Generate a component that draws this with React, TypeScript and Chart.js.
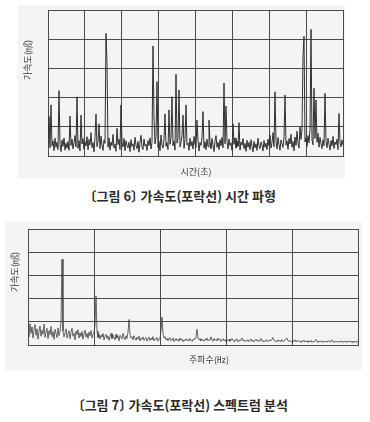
import React, { useEffect, useRef } from "react";
import { Chart, registerables } from "chart.js";

Chart.register(...registerables);

// ---- data ----
const AMP_ROWS = 5; // amplitude grid rows (both charts)
const TIME_DIVISIONS = 8; // time grid columns
const FREQ_DIVISIONS = 5; // frequency grid columns

// acceleration envelope, time waveform (grid-row units)
const TIME_AMPLITUDE = [
  0.42, 1.35, 0.28, 1.75, 0.35, 0.52, 0.18, 0.61, 0.3, 0.47, 0.22, 2.24, 0.4, 0.15, 0.55, 0.33, 0.62, 0.2, 0.44, 0.27,
  0.5, 0.19, 1.37, 0.36, 0.58, 0.24, 0.45, 0.7, 0.31, 2.03, 0.26, 0.53, 0.17, 1.4, 0.41, 0.6, 0.23, 0.49, 0.34, 0.66,
  0.21, 0.57, 0.38, 0.8, 0.29, 0.46, 0.14, 0.63, 1.44, 0.32, 0.51, 1.1, 0.25, 0.68, 0.37, 0.19, 0.55, 0.43, 4.2, 3.17,
  0.3, 0.62, 0.2, 0.48, 0.35, 0.74, 0.27, 0.41, 0.16, 0.95, 0.39, 0.58, 0.22, 1.75, 0.45, 0.31, 0.6, 0.18, 0.52, 0.36,
  0.28, 0.47, 0.15, 0.56, 0.33, 0.42, 0.2, 0.64, 0.37, 0.25, 0.5, 0.13, 0.45, 0.71, 0.3, 0.22, 0.58, 0.34, 0.4, 0.19,
  0.53, 0.36, 0.62, 0.24, 0.47, 3.77, 1.3, 0.41, 0.66, 2.55, 0.29, 0.5, 0.18, 0.72, 0.38, 0.27, 0.59, 1.44, 0.33, 0.46,
  0.22, 1.58, 0.4, 0.63, 2.03, 0.35, 0.52, 0.2, 2.8, 0.44, 0.6, 2.26, 0.31, 0.48, 0.7, 1.4, 0.26, 0.55, 1.75, 0.38,
  0.45, 0.19, 0.61, 0.34, 0.5, 0.24, 0.67, 0.4, 0.29, 1.23, 0.53, 0.17, 0.46, 0.36, 0.62, 1.52, 0.27, 0.49, 0.21, 0.58,
  0.32, 1.23, 0.44, 0.26, 0.6, 0.38, 0.15, 0.52, 0.7, 0.3, 0.47, 0.22, 0.56, 0.35, 0.64, 0.28, 2.5, 0.42, 1.71, 0.5,
  0.24, 0.58, 0.36, 0.45, 0.19, 1.1, 0.4, 0.62, 0.27, 0.51, 0.33, 1.14, 0.2, 0.48, 0.37, 0.6, 0.25, 0.43, 0.16, 0.54,
  0.3, 0.47, 0.21, 0.56, 0.34, 0.14, 0.5, 0.28, 0.42, 0.19, 0.61, 0.33, 0.25, 0.48, 0.38, 0.17, 0.53, 0.3, 0.44, 0.22,
  0.58, 0.35, 0.71, 0.27, 0.46, 0.8, 0.32, 2.2, 0.5, 0.24, 0.63, 0.39, 0.2, 0.55, 0.42, 0.29, 0.66, 2.09, 0.37, 0.52,
  0.23, 0.6, 0.41, 0.74, 0.3, 0.5, 0.18, 0.65, 0.36, 0.85, 0.44, 0.27, 1.0, 0.57, 0.9, 3.4, 4.1, 0.48, 0.62, 0.33,
  0.7, 0.45, 0.92, 4.34, 0.55, 0.38, 2.32, 0.6, 1.92, 0.47, 0.78, 0.3, 0.64, 0.42, 0.25, 0.56, 0.35, 2.15, 0.5, 0.28,
  0.61, 0.4, 0.2, 0.53, 0.34, 0.67, 0.26, 0.48, 0.39, 0.58, 0.22, 1.46, 0.44, 0.31, 0.55, 0.37,
];

// acceleration envelope spectrum (grid-row units)
const SPECTRUM_AMPLITUDE = [
  0.6, 0.35, 0.92, 0.5, 0.78, 0.3, 0.66, 0.88, 0.42, 0.7, 0.25, 0.58, 0.82, 0.38, 0.64, 0.47, 0.9, 0.33, 0.55, 0.72,
  0.28, 0.62, 0.45, 0.8, 0.36, 0.58, 0.24, 0.68, 0.5, 0.32, 0.74, 0.4, 0.56, 1.05, 3.7, 0.6, 0.35, 0.52, 0.7, 0.3,
  0.48, 0.62, 0.27, 0.55, 0.72, 0.38, 0.5, 0.22, 0.6, 0.44, 0.66, 0.3, 0.52, 0.36, 0.58, 0.25, 0.48, 0.64, 0.34, 0.5,
  0.28, 0.56, 0.4, 0.62, 0.3, 0.45, 0.55, 0.85, 2.12, 0.6, 0.32, 0.48, 0.26, 0.42, 0.35, 0.5, 0.22, 0.38, 0.46, 0.28,
  0.4, 0.2, 0.36, 0.5, 0.27, 0.44, 0.32, 0.24, 0.46, 0.3, 0.38, 0.18, 0.42, 0.34, 0.26, 0.5, 0.3, 0.22, 0.4, 0.28,
  0.55, 1.1, 0.45, 0.3, 0.36, 0.22, 0.4, 0.28, 0.2, 0.34, 0.25, 0.38, 0.18, 0.3, 0.24, 0.35, 0.2, 0.28, 0.32, 0.17,
  0.26, 0.34, 0.2, 0.3, 0.22, 0.36, 0.18, 0.27, 0.23, 0.32, 0.16, 0.25, 0.3, 0.6, 1.2, 0.5, 0.3, 0.36, 0.22, 0.28,
  0.2, 0.26, 0.32, 0.18, 0.24, 0.3, 0.15, 0.22, 0.28, 0.19, 0.25, 0.16, 0.3, 0.21, 0.26, 0.14, 0.22, 0.18, 0.27, 0.2,
  0.24, 0.17, 0.28, 0.2, 0.15, 0.25, 0.21, 0.3, 0.35, 0.68, 0.32, 0.22, 0.27, 0.18, 0.24, 0.2, 0.16, 0.26, 0.22, 0.3,
  0.18, 0.24, 0.2, 0.35, 0.22, 0.16, 0.28, 0.2, 0.25, 0.17, 0.3, 0.22, 0.26, 0.15, 0.21, 0.27, 0.19, 0.24, 0.14, 0.22,
  0.18, 0.25, 0.16, 0.21, 0.28, 0.19, 0.15, 0.23, 0.2, 0.26, 0.14, 0.2, 0.17, 0.24, 0.3, 0.18, 0.22, 0.15, 0.2, 0.17,
  0.23, 0.14, 0.19, 0.26, 0.16, 0.21, 0.13, 0.2, 0.25, 0.17, 0.22, 0.15, 0.19, 0.28, 0.16, 0.2, 0.13, 0.18, 0.23, 0.15,
  0.2, 0.16, 0.22, 0.18, 0.25, 0.32, 0.2, 0.15, 0.19, 0.13, 0.22, 0.17, 0.2, 0.14, 0.24, 0.18, 0.15, 0.21, 0.27, 0.3,
  0.18, 0.14, 0.2, 0.16, 0.12, 0.19, 0.15, 0.22, 0.13, 0.18, 0.2, 0.14, 0.17, 0.11, 0.19, 0.15, 0.21, 0.13, 0.16, 0.18,
  0.12, 0.17, 0.14, 0.2, 0.11, 0.16, 0.13, 0.18, 0.24, 0.15, 0.12, 0.17, 0.14, 0.19, 0.11, 0.15, 0.13, 0.17, 0.12, 0.16,
  0.14, 0.19, 0.12, 0.16, 0.22, 0.13, 0.15, 0.11, 0.17, 0.14, 0.12, 0.16, 0.13, 0.18, 0.11, 0.15, 0.12, 0.17, 0.14, 0.12,
  0.16, 0.13, 0.18, 0.12, 0.15, 0.11, 0.14, 0.17, 0.12, 0.15, 0.13,
];

const Y_TITLE = "가속도(㎨)";
const TIME_X_TITLE = "시간(초)";
const FREQ_X_TITLE = "주파수(㎐)";
const CAPTION_1 = "〔그림 6〕 가속도(포락선) 시간 파형";
const CAPTION_2 = "〔그림 7〕 가속도(포락선) 스펙트럼 분석";

const FONT = '"Noto Sans CJK KR", "Noto Sans", sans-serif';

type AxisText = { text: string; dx: number; dy: number; rotate?: boolean };

const axisTextPlugin = {
  id: "axisText",
  afterDraw(chart: any, _args: any, opts: any) {
    const { ctx, chartArea } = chart;
    const items: AxisText[] = opts.items || [];
    items.forEach((it) => {
      ctx.save();
      ctx.font = `9px ${FONT}`;
      ctx.fillStyle = "#3c3c3c";
      ctx.textAlign = "center";
      ctx.textBaseline = "middle";
      ctx.translate(chartArea.left + it.dx, chartArea.top + it.dy);
      if (it.rotate) ctx.rotate(-Math.PI / 2);
      ctx.fillText(it.text, 0, 0);
      ctx.restore();
    });
  },
};

function WaveChart(props: {
  values: number[];
  divisions: number;
  top: number;
  height: number;
  lineColor: string;
  lineWidth: number;
  padding: { left: number; top: number; right: number; bottom: number };
  texts: AxisText[];
}) {
  const ref = useRef<HTMLCanvasElement>(null);
  useEffect(() => {
    const { values, divisions } = props;
    const points = values.map((v, i) => ({ x: (i * divisions) / (values.length - 1), y: v }));
    const gridColor = "#4a4a4a";
    const chart = new Chart(ref.current as HTMLCanvasElement, {
      type: "line",
      data: {
        datasets: [
          {
            data: points,
            borderColor: props.lineColor,
            borderWidth: props.lineWidth,
            pointRadius: 0,
            tension: 0,
            fill: false,
          },
        ],
      },
      options: {
        animation: false,
        responsive: false,
        events: [],
        layout: { padding: props.padding },
        plugins: {
          legend: { display: false },
          tooltip: { enabled: false },
          axisText: { items: props.texts },
        } as any,
        scales: {
          x: {
            type: "linear",
            min: 0,
            max: divisions,
            ticks: { display: false, stepSize: 1 },
            grid: { color: gridColor, lineWidth: 1, drawTicks: false },
            border: { color: gridColor, width: 1 },
          },
          y: {
            min: 0,
            max: AMP_ROWS,
            ticks: { display: false, stepSize: 1 },
            grid: { color: gridColor, lineWidth: 1, drawTicks: false },
            border: { color: gridColor, width: 1 },
          },
        },
      },
      plugins: [axisTextPlugin as any],
    });
    return () => chart.destroy();
  }, []);
  return (
    <canvas
      ref={ref}
      width={370}
      height={props.height}
      style={{ position: "absolute", left: 0, top: props.top, width: 370, height: props.height }}
    />
  );
}

const captionStyle: React.CSSProperties = {
  position: "absolute",
  left: 0,
  width: 366,
  textAlign: "center",
  fontFamily: FONT,
  fontSize: 13,
  fontWeight: 600,
  lineHeight: "16px",
  color: "#2a2a2a",
  fontFeatureSettings: '"halt"',
  whiteSpace: "nowrap",
};

export default function App() {
  return (
    <div style={{ position: "absolute", left: 0, top: 0, width: 370, height: 422, background: "#ffffff", overflow: "hidden" }}>
      <div style={{ position: "absolute", left: 18, top: 5, width: 327, height: 173, background: "#f4f4f4" }} />
      <div style={{ position: "absolute", left: 5, top: 222, width: 357, height: 148, background: "#f4f4f4" }} />
      <WaveChart
        values={TIME_AMPLITUDE}
        divisions={TIME_DIVISIONS}
        top={0}
        height={185}
        lineColor="#303030"
        lineWidth={1}
        padding={{ left: 48, top: 10, right: 27, bottom: 29 }}
        texts={[
          { text: Y_TITLE, dx: -20, dy: 50, rotate: true },
          { text: TIME_X_TITLE, dx: 148, dy: 162 },
        ]}
      />
      <WaveChart
        values={SPECTRUM_AMPLITUDE}
        divisions={FREQ_DIVISIONS}
        top={215}
        height={160}
        lineColor="#404040"
        lineWidth={0.8}
        padding={{ left: 28, top: 14, right: 12, bottom: 30 }}
        texts={[
          { text: Y_TITLE, dx: -13, dy: 43, rotate: true },
          { text: FREQ_X_TITLE, dx: 181, dy: 131 },
        ]}
      />
      <div style={{ ...captionStyle, top: 188 }}>{CAPTION_1}</div>
      <div style={{ ...captionStyle, top: 397 }}>{CAPTION_2}</div>
    </div>
  );
}
